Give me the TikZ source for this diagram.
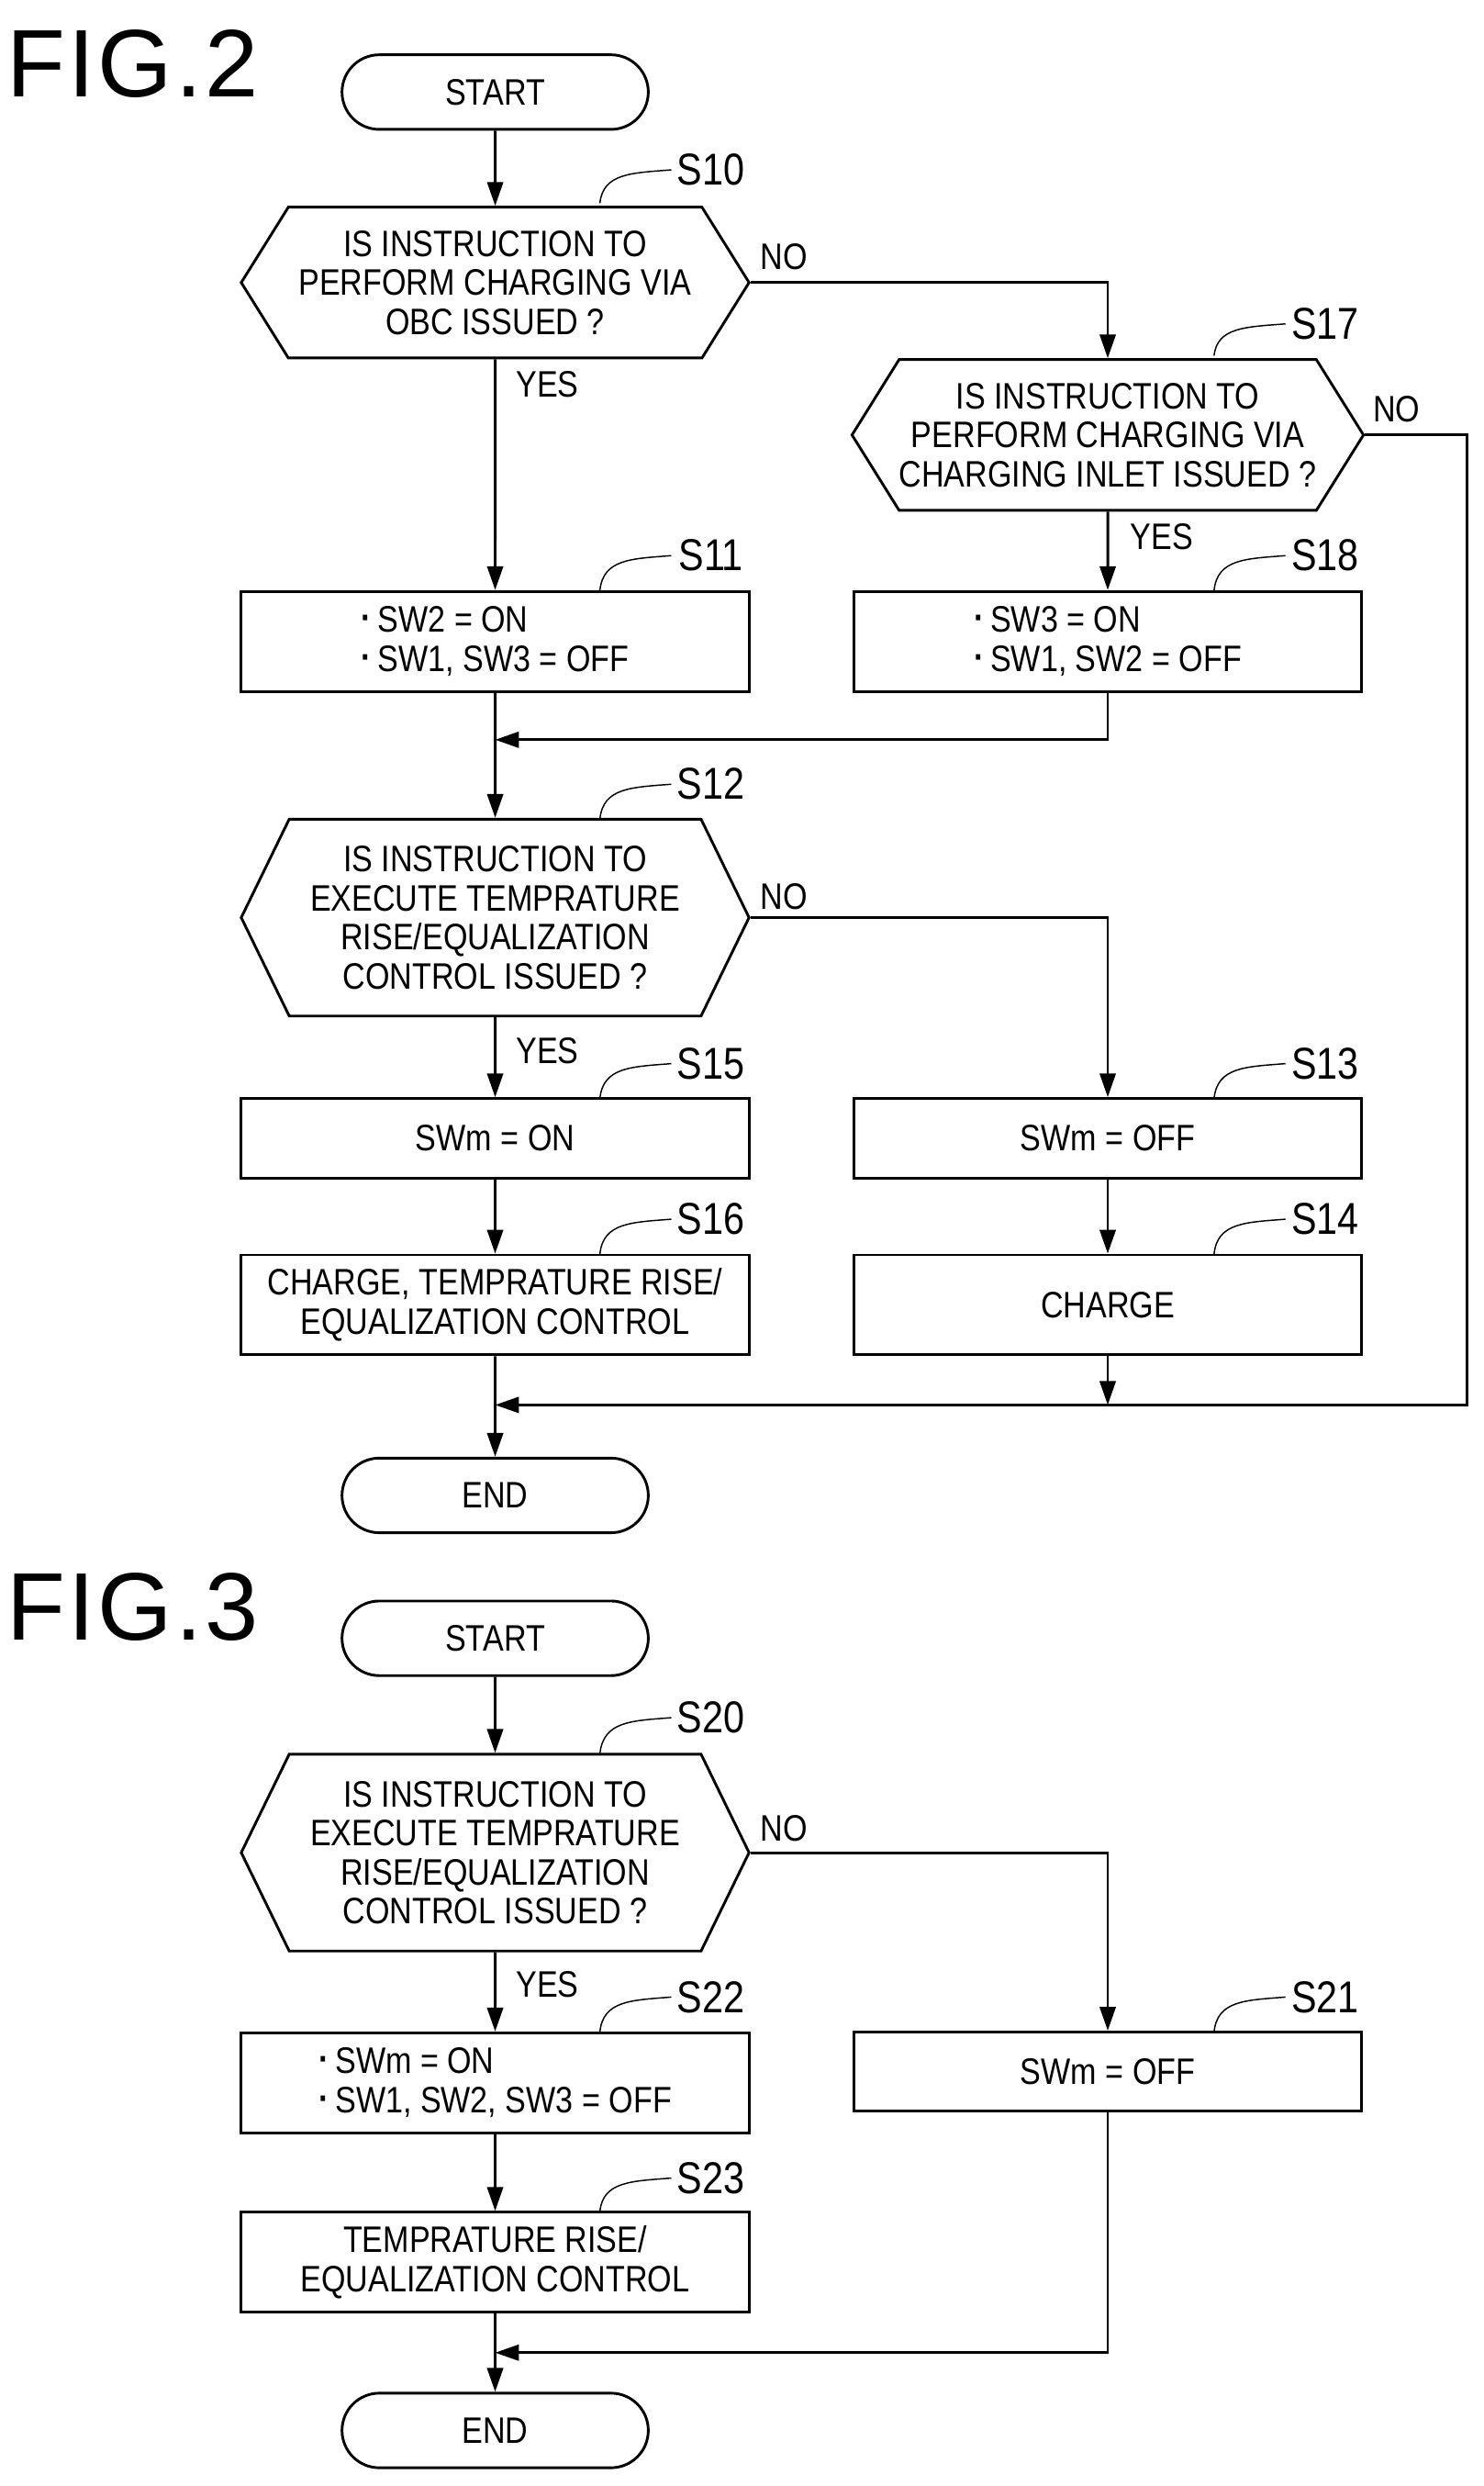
\documentclass[tikz,border=0pt]{standalone}
\usepackage{fontspec}
\setmainfont{Liberation Sans}[FakeStretch=0.85]
\newfontfamily\figfont{Liberation Sans}[LetterSpace=3]
\usetikzlibrary{shapes.misc,shapes.symbols,arrows.meta}
\newcommand{\bul}{\smash{\raisebox{0.1ex}{\textbf{·}}}\,}
\begin{document}
\begin{tikzpicture}[x=0.05cm,y=-0.05cm,
  every node/.style={font=\fontsize{33}{35}\selectfont},
  ln/.style={line width=2.4pt},
  arr/.style={ln,-{Triangle[length=0.75cm,width=0.5cm]}},
  term/.style={draw,ln,rounded rectangle,minimum width=9.65cm,minimum height=2.35cm,inner sep=0pt},
  box/.style={draw,ln,rectangle,minimum width=16cm,minimum height=3.15cm,align=center,inner sep=0pt},
  sbox/.style={box,minimum height=2.5cm},
  dec/.style={draw,ln,signal,signal to=east and west,signal pointer angle=116,minimum width=16cm,minimum height=4.75cm,align=center,inner sep=0pt},
  tdec/.style={dec,signal pointer angle=128,minimum height=6.2cm},
  lab/.style={font=\fontsize{40}{40}\selectfont},
  lead/.style={line width=1.2pt},
  fig/.style={font=\figfont\fontsize{86}{90}\selectfont,anchor=west},
  yn/.style={}]
\useasboundingbox (0,0) rectangle (935,1566);
% FIG 2
\node[fig] (f2) at (2,40) {FIG.2};
\node[term] (st2) at (312,58) {START};
\node[dec] (s10) at (312,178) {IS INSTRUCTION TO\\PERFORM CHARGING VIA\\OBC ISSUED ?};
\node[dec] (s17) at (698,274) {IS INSTRUCTION TO\\PERFORM CHARGING VIA\\CHARGING INLET ISSUED ?};
\node[box,align=left] (s11) at (312,404) {\bul SW2 = ON\\\bul SW1, SW3 = OFF};
\node[box,align=left] (s18) at (698,404) {\bul SW3 = ON\\\bul SW1, SW2 = OFF};
\node[tdec] (s12) at (312,578) {IS INSTRUCTION TO\\EXECUTE TEMPRATURE\\RISE/EQUALIZATION\\CONTROL ISSUED ?};
\node[sbox] (s15) at (312,717) {SWm = ON};
\node[sbox] (s13) at (698,717) {SWm = OFF};
\node[box] (s16) at (312,822) {CHARGE, TEMPRATURE RISE/\\EQUALIZATION CONTROL};
\node[box] (s14) at (698,822) {CHARGE};
\node[term] (en2) at (312,942) {END};
\coordinate (j0) at (312,466);
\coordinate (j1) at (312,885);
\draw[arr] (st2) -- (s10);
\draw[arr] (s10) -- (s11);
\draw[arr] (s10.east) -| (s17.north);
\draw[arr] (s17) -- (s18);
\draw[arr] (s17.east) -- ++(64,0) |- (j1);
\draw[arr] (s18.south) |- (j0);
\draw[arr] (s11) -- (s12);
\draw[arr] (s12) -- (s15);
\draw[arr] (s12.east) -| (s13.north);
\draw[arr] (s15) -- (s16);
\draw[arr] (s13) -- (s14);
\draw[arr] (s14.south) -- (s14.south |- j1);
\draw[arr] (s16) -- (en2);
\node[yn] (n10) at (494,162) {NO};
\node[yn] (y10) at (345,242) {YES};
\node[yn] (n17) at (880,258) {NO};
\node[yn] (y17) at (732,338) {YES};
\node[yn] (n12) at (494,565) {NO};
\node[yn] (y12) at (345,662) {YES};
% FIG 3
\node[fig] (f3) at (2,1012) {FIG.3};
\node[term] (st3) at (312,1032) {START};
\node[tdec] (s20) at (312,1167) {IS INSTRUCTION TO\\EXECUTE TEMPRATURE\\RISE/EQUALIZATION\\CONTROL ISSUED ?};
\node[box,align=left] (s22) at (312,1312) {\bul SWm = ON\\\bul SW1, SW2, SW3 = OFF};
\node[sbox] (s21) at (698,1305) {SWm = OFF};
\node[box] (s23) at (312,1425) {TEMPRATURE RISE/\\EQUALIZATION CONTROL};
\node[term] (en3) at (312,1531) {END};
\coordinate (j2) at (312,1482);
\draw[arr] (st3) -- (s20);
\draw[arr] (s20) -- (s22);
\draw[arr] (s20.east) -| (s21.north);
\draw[arr] (s22) -- (s23);
\draw[arr] (s21.south) |- (j2);
\draw[arr] (s23) -- (en3);
\node[yn] (n20) at (494,1152) {NO};
\node[yn] (y20) at (345,1250) {YES};
% step labels
\foreach \n/\x/\y/\by in {S10/448/107/128, S17/835/204/224, S11/448/350/372, S18/835/350/372, S12/448/494/516, S15/448/670/692, S13/835/670/692, S16/448/768/790, S14/835/768/790, S20/448/1082/1105, S22/448/1258/1280, S21/835/1258/1280, S23/448/1372/1393}{
  \node[lab] (L\n) at (\x,\y) {\n};
  \draw[lead] (\x-70,\by) .. controls (\x-68,\y+2) and (\x-50,\y+2) .. (\x-25,\y);
}
\end{tikzpicture}
\end{document}
